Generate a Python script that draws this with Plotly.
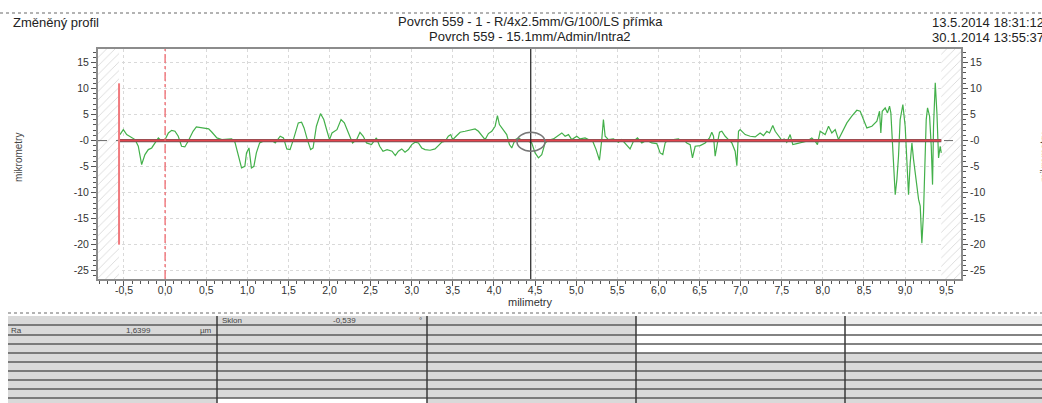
import plotly.graph_objects as go

# ---------------- data ----------------
X_MM = [-0.549, -0.508, -0.467, -0.406, -0.366, -0.326, -0.285, -0.245, -0.204, -0.163, -0.123, -0.082, -0.041,
        0.0, 0.04, 0.08, 0.12, 0.16, 0.20, 0.24, 0.28, 0.34, 0.38, 0.46, 0.53, 0.57, 0.63, 0.69, 0.75, 0.81, 0.85,
        0.89, 0.93, 0.97, 0.99, 1.02, 1.05, 1.08, 1.11, 1.15, 1.22, 1.28, 1.34, 1.40, 1.44, 1.48, 1.52, 1.56, 1.62,
        1.66, 1.69, 1.73, 1.77, 1.80, 1.84, 1.89, 1.93, 1.97, 2.00, 2.03, 2.09, 2.14, 2.18, 2.23, 2.28, 2.33, 2.37,
        2.41, 2.45, 2.51, 2.57, 2.61, 2.65, 2.70, 2.76, 2.80, 2.837,
        2.878, 2.918, 2.959, 3.000, 3.040, 3.081, 3.121, 3.162, 3.223, 3.283, 3.324, 3.364, 3.405, 3.445, 3.474,
        3.498, 3.539, 3.588, 3.648, 3.709, 3.770, 3.811, 3.851, 3.892, 3.932, 3.973, 4.014, 4.042, 4.066, 4.115,
        4.155, 4.188, 4.216, 4.257, 4.297, 4.358, 4.419, 4.459, 4.500, 4.541, 4.581, 4.622, 4.662, 4.723, 4.784,
        4.825, 4.865, 4.906, 4.946, 5.007, 5.047, 5.108, 5.149, 5.201, 5.242, 5.283, 5.311, 5.331, 5.352, 5.392,
        5.453, 5.514, 5.554, 5.615, 5.655, 5.696, 5.745, 5.798, 5.858, 5.919, 5.980, 6.021, 6.053, 6.082, 6.122,
        6.183, 6.244,
        6.264, 6.305, 6.345, 6.386, 6.414, 6.447, 6.508, 6.569, 6.621, 6.649, 6.670, 6.690, 6.718, 6.743, 6.771,
        6.812, 6.852, 6.893, 6.933, 6.954, 6.974, 6.994, 7.055, 7.116, 7.177, 7.237, 7.278, 7.318, 7.351, 7.391,
        7.420, 7.460, 7.501, 7.529, 7.561, 7.602, 7.634, 7.683, 7.744, 7.804, 7.865, 7.906, 7.934,
        7.967, 8.028, 8.069, 8.109, 8.150, 8.190, 8.231, 8.292, 8.352, 8.413, 8.454, 8.494, 8.535, 8.596, 8.657,
        8.689, 8.705, 8.722, 8.758, 8.786, 8.811, 8.827, 8.851, 8.880, 8.900, 8.920, 8.940, 8.973, 9.001, 9.022,
        9.042, 9.062, 9.083, 9.103, 9.135, 9.164, 9.184, 9.204, 9.224, 9.245, 9.257, 9.273, 9.298, 9.318, 9.334,
        9.346, 9.367, 9.387, 9.407, 9.427, 9.440]
Z_UM = [1.15, 2.1, 1.15, 0.51, 0.19, -1.09, -4.6, -2.7, -1.73, -1.41, -0.45, 0.51, -0.13,
        0.19, 1.47, 1.97, 1.79, 0.83, -1.09, -1.22, -0.13, 1.79, 2.63, 2.44, 2.24, 1.6, 0.51, 0.19, 0.19, 0.32, -0.32,
        -2.7, -5.26, -4.94, -2.37, -1.41, -5.26, -4.94, -2.37, -0.45, 0.06, 0.19, -0.45, 0.83, 0.51, -1.6, -1.73, 0.19, 3.4,
        3.53, 2.44, 0.19, -1.73, -1.41, 2.76, 5.19, 4.04, 1.79, 0.19, 1.47, 2.1, 4.04, 3.4, 1.47, -0.45, 0.19, 1.6,
        0.83, -0.45, -0.77, 0.51, -1.09, -2.05, -1.73, -2.05, -2.88, -2.05,
        -1.60, -2.24, -1.73, -0.77, -0.32, -0.45, -1.41, -1.73, -1.86, -1.60, -0.96, -0.32, -0.13, 0.83, 1.15,
        0.19, 0.83, 1.60, 1.79, 1.99, 2.24, 1.79, 0.96, 0.19, 1.35, 1.79, 2.76, 4.81, 3.08, 2.12,
        1.15, -0.77, -1.41, 0.19, 0.51, -0.13, -0.13, -0.45, -2.37, -3.33, -2.69, -0.45, 0.06, 0.32, 0.96,
        1.47, 0.83, 1.15, 0.19, 0.83, 0.32, 0.51, 0.19, -0.13, -1.73, -3.78, 0.19, 4.04, 0.83, 0.19,
        0.32, -0.32, 0.19, -0.77, -1.60, -0.13, 0.51, -0.45, 0.06, -0.45, -0.58, -2.37, -2.69, -0.45, 0.19,
        0.19, 0.32,
        0.06, 0.19, -0.45, -0.77, -3.33, -1.09, -0.96, -0.45, 0.51, 1.60, 0.83, -3.01, -0.45, 1.60, 1.79,
        0.83, 0.19, -0.45, -2.05, -4.81, 1.79, 2.12, 1.15, 0.83, 0.71, 1.47, 0.96, 1.79, 1.47, 2.88,
        1.79, 0.83, 0.06, 0.32, -0.32, 1.15, -0.77, -0.58, -0.32, -0.13, 0.51, -0.13, -0.77,
        1.80, 1.15, 2.76, 1.47, 2.12, 0.19, 1.47, 3.40, 4.68, 5.83, 5.64, 4.04, 2.44, 2.76, 3.72,
        5.64, 1.47, 5.64, 6.28, 5.32, 6.60, 5.32, -1.09, -10.4, -7.5, -3.01, 4.04, 6.92, 2.76, -4.29,
        -10.4, -4.29, -0.45, -3.65, -7.5, -11.3, -12.6, -19.7, -13.9, -1.09, 4.04, 6.28, 4.68, -1.09, -8.46,
        2.76, 11.09, 5.32, -3.33, -1.09, -2.37]

X_TICKS = [-0.5, 0.0, 0.5, 1.0, 1.5, 2.0, 2.5, 3.0, 3.5, 4.0, 4.5, 5.0, 5.5, 6.0, 6.5, 7.0, 7.5, 8.0, 8.5, 9.0, 9.5]
X_TICK_LABELS = ["-0,5", "0,0", "0,5", "1,0", "1,5", "2,0", "2,5", "3,0", "3,5", "4,0", "4,5",
                 "5,0", "5,5", "6,0", "6,5", "7,0", "7,5", "8,0", "8,5", "9,0", "9,5"]
Y_TICKS = [-25, -20, -15, -10, -5, 0, 5, 10, 15]
Y_TICK_LABELS = ["-25", "-20", "-15", "-10", "-5", "-0", "5", "10", "15"]

X_RANGE = [-0.816, 9.68]
Y_RANGE = [-26.6, 17.6]
EVAL_START = -0.56          # start of evaluated section (red solid marker)
EVAL_END = 9.44             # end of evaluated section
MARK_Y = [-20, 11]          # extent of the start marker
ZERO_REF_X = [0.0]          # dash-dot reference
CURSOR_X = 4.447            # black cursor
CURSOR_ELLIPSE = [4.28, 4.62, -2.05, 1.6]

TITLE_L1 = "Povrch 559 - 1 - R/4x2.5mm/G/100/LS přímka"
TITLE_L2 = "Povrch 559 - 15.1mm/Admin/Intra2"
DATE_L1 = "13.5.2014 18:31:12"
DATE_L2 = "30.1.2014 13:55:37"

# ---------------- layout helpers ----------------
W, H = 1042, 403
PL, PR, PT, PB = 98, 961, 49, 279


def px(x):
    return (x - PL) / (PR - PL)


def py(y):
    return (PB - y) / (PB - PT)


FONT = "Liberation Sans, Arial, sans-serif"
fig = go.Figure()

# hatched excluded regions
for xa, xb in [(X_RANGE[0], EVAL_START), (EVAL_END, X_RANGE[1])]:
    fig.add_trace(go.Scatter(
        x=[xa, xb, xb, xa, xa], y=[Y_RANGE[0], Y_RANGE[0], Y_RANGE[1], Y_RANGE[1], Y_RANGE[0]],
        fill="toself", fillcolor="white", mode="lines", line=dict(width=0),
        fillpattern=dict(shape="/", fgcolor="#b4b4b4", bgcolor="white", size=6, solidity=0.15),
        hoverinfo="skip", showlegend=False))

# profile
fig.add_trace(go.Scatter(x=X_MM, y=Z_UM, mode="lines", line=dict(color="#43b04a", width=1.2),
                         hoverinfo="skip", showlegend=False))

# zero reference lines
fig.add_trace(go.Scatter(x=X_RANGE, y=[0, 0], mode="lines", line=dict(color="#6a6a6a", width=1, dash="dash"),
                         hoverinfo="skip", showlegend=False))
fig.add_trace(go.Scatter(x=[EVAL_START, EVAL_END], y=[0, 0], mode="lines", line=dict(color="#555555", width=3.2),
                         hoverinfo="skip", showlegend=False))
fig.add_trace(go.Scatter(x=[EVAL_START, EVAL_END], y=[0, 0], mode="lines", line=dict(color="#e5454e", width=2),
                         hoverinfo="skip", showlegend=False))

# markers
fig.add_trace(go.Scatter(x=[EVAL_START, EVAL_START], y=MARK_Y, mode="lines",
                         line=dict(color="#f07a7e", width=2), hoverinfo="skip", showlegend=False))
for zx in ZERO_REF_X:
    fig.add_trace(go.Scatter(x=[zx, zx], y=Y_RANGE, mode="lines",
                             line=dict(color="#f06a70", width=1.3, dash="dashdot"),
                             hoverinfo="skip", showlegend=False))
fig.add_trace(go.Scatter(x=[CURSOR_X, CURSOR_X], y=Y_RANGE, mode="lines",
                         line=dict(color="#222222", width=1.2), hoverinfo="skip", showlegend=False))
# dummy for right axis
fig.add_trace(go.Scatter(x=[X_RANGE[0]], y=[0], yaxis="y2", mode="markers", marker=dict(opacity=0),
                         hoverinfo="skip", showlegend=False))

shapes = []
shapes.append(dict(type="circle", xref="x", yref="y", x0=CURSOR_ELLIPSE[0], x1=CURSOR_ELLIPSE[1],
                   y0=CURSOR_ELLIPSE[2], y1=CURSOR_ELLIPSE[3], line=dict(color="#777777", width=1.5)))

# page dotted separators
for yy, x0 in [(13, 0), (313, 8)]:
    shapes.append(dict(type="line", xref="paper", yref="paper", x0=px(x0), x1=px(W), y0=py(yy), y1=py(yy),
                       line=dict(color="#9a9a9a", width=1.5, dash="dot")))

# table
COLS = [8, 217, 427, 636, 845, W]
ROWS = [316, 325, 335, 344, 353, 362, 371, 380, 389, 398, H]
for ci in range(len(COLS) - 1):
    for ri in range(len(ROWS) - 1):
        col = "#d9d9d9"
        if ci >= 3 and ri == 0:
            col = "#ededed"
        if ci >= 3 and 1 <= ri <= 3:
            col = "#ffffff"
        if ci == 1 and ri == len(ROWS) - 2:
            col = "#ffffff"
        shapes.append(dict(type="rect", xref="paper", yref="paper", layer="below",
                           x0=px(COLS[ci]), x1=px(COLS[ci + 1]), y0=py(ROWS[ri + 1]), y1=py(ROWS[ri]),
                           fillcolor=col, line=dict(width=0)))
for r in ROWS[1:-1]:
    shapes.append(dict(type="line", xref="paper", yref="paper", x0=px(COLS[0]), x1=px(W),
                       y0=py(r), y1=py(r), line=dict(color="#5a5a5a", width=1.5)))
for c in COLS[1:-1]:
    shapes.append(dict(type="line", xref="paper", yref="paper", x0=px(c), x1=px(c),
                       y0=py(ROWS[0]), y1=py(H), line=dict(color="#3a3a3a", width=1.5)))

ann = []


def text(t, x, y, size, anchor="center", color="#222222", angle=0):
    ann.append(dict(text=t, x=px(x), y=py(y), xref="paper", yref="paper", showarrow=False,
                    xanchor=anchor, yanchor="middle", textangle=angle,
                    font=dict(family=FONT, size=size, color=color)))


text("Změněný profil", 11, 22, 13, "left")
text(TITLE_L1, 530, 21, 13)
text(TITLE_L2, 530, 36, 13)
text(DATE_L1, 930, 22, 13, "left")
text(DATE_L2, 930, 37, 13, "left")
text("mikrometry", 18, 158, 10, "center", "#444444", -90)
text("mikrometry", 1044, 158, 10, "center", "#444444", -90)
text("milimetry", 530, 302, 11, "center", "#333333")
text("Sklon", 220, 320.5, 8, "left", "#444444")
text("-0,539", 358, 320.5, 8, "right", "#444444")
text("°", 424, 320.5, 8, "right", "#444444")
text("Ra", 9, 330, 8, "left", "#444444")
text("1,6399", 153, 330, 8, "right", "#444444")
text("µm", 214, 330, 8, "right", "#444444")

axis_common = dict(
    ticks="outside", ticklen=5, tickcolor="#555555", tickwidth=1,
    tickfont=dict(family=FONT, size=10.5, color="#333333"),
    showline=True, linecolor="#8c8c8c", linewidth=2, zeroline=False,
)

fig.update_layout(
    width=W, height=H, autosize=False,
    margin=dict(l=PL, r=W - PR, t=PT, b=H - PB, pad=0),
    paper_bgcolor="white", plot_bgcolor="white",
    showlegend=False,
    xaxis=dict(range=X_RANGE, tickmode="array", tickvals=X_TICKS, ticktext=X_TICK_LABELS,
               mirror=True, showgrid=True, gridcolor="#d9d9d9", griddash="dot", gridwidth=1,
               ticklabelstandoff=-5,
               minor=dict(tickmode="linear", tick0=0, dtick=0.1, ticks="outside", ticklen=3,
                          tickcolor="#555555", showgrid=False),
               **axis_common),
    yaxis=dict(range=Y_RANGE, tickmode="array", tickvals=Y_TICKS, ticktext=Y_TICK_LABELS,
               mirror=True, showgrid=True, gridcolor="#d9d9d9", griddash="dot", gridwidth=1,
               minor=dict(tickmode="linear", tick0=0, dtick=1, ticks="outside", ticklen=3,
                          tickcolor="#555555", showgrid=False),
               **axis_common),
    yaxis2=dict(range=Y_RANGE, overlaying="y", side="right", tickmode="array", tickvals=Y_TICKS,
                ticktext=Y_TICK_LABELS, showgrid=False,
                minor=dict(tickmode="linear", tick0=0, dtick=1, ticks="outside", ticklen=3,
                           tickcolor="#555555", showgrid=False),
                **axis_common),
    shapes=shapes,
    annotations=ann,
)

fig.write_html("out.html", config={"displayModeBar": False},
               post_script="document.body.style.margin='0';document.body.style.overflow='hidden';")
